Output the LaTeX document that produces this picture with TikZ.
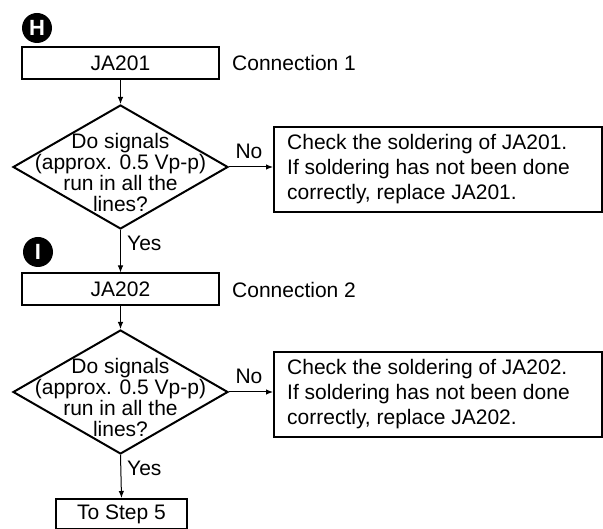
\documentclass[tikz,border=0pt]{standalone}
\usepackage{fontspec}
\setmainfont{Liberation Sans}
\usetikzlibrary{shapes.geometric,arrows.meta}
\begin{document}
\begin{tikzpicture}[x=1pt,y=-1pt,
  every node/.style={font=\fontsize{21}{21}\selectfont},
  stepbox/.style={draw, line width=2pt, minimum width=197pt, minimum height=32pt, inner sep=0pt},
  dia/.style={draw, diamond, line width=2pt, minimum width=215pt, minimum height=124pt, inner sep=0pt},
  chkbox/.style={draw, line width=2pt, minimum width=328pt, minimum height=85pt, inner sep=0pt},
  arr/.style={-{Latex[length=7pt,width=5.5pt]}, line width=1pt},
  badge/.style={circle, fill=black, minimum size=30pt, inner sep=0pt, text=white, font=\fontsize{22}{22}\selectfont\bfseries},
  lbl/.style={inner sep=0pt}
]
\useasboundingbox (0,0) rectangle (603,529);
% H section
\node[badge] (bH) at (37,28) {H};
\node[stepbox] (ja1) at (120.5,63) {JA201};
\node[lbl, anchor=west] (c1) at (232,63) {Connection 1};
\node[dia] (d1) at (120.5,167) {};
\node[lbl, align=center] (t1) at (120.5,172) {Do signals\\(approx. 0.5 Vp-p)\\run in all the\\lines?};
\node[chkbox] (k1) at (438,169.5) {};
\node[lbl, anchor=west, align=left, font=\fontsize{21}{25}\selectfont] (kt1) at (287,169.5) {Check the soldering of JA201.\\If soldering has not been done\\correctly, replace JA201.};
\node[lbl] (no1) at (249,151) {No};
\node[lbl, anchor=west] (yes1) at (127,243) {Yes};
% I section
\node[badge] (bI) at (38,252) {I};
\node[stepbox] (ja2) at (120.5,289.5) {JA202};
\node[lbl, anchor=west] (c2) at (232,289.5) {Connection 2};
\node[dia] (d2) at (120.5,392) {};
\node[lbl, align=center] (t2) at (120.5,397) {Do signals\\(approx. 0.5 Vp-p)\\run in all the\\lines?};
\node[chkbox] (k2) at (438,394.5) {};
\node[lbl, anchor=west, align=left, font=\fontsize{21}{25}\selectfont] (kt2) at (287,394.5) {Check the soldering of JA202.\\If soldering has not been done\\correctly, replace JA202.};
\node[lbl] (no2) at (249,376) {No};
\node[lbl, anchor=west] (yes2) at (127,468) {Yes};
\node[draw, line width=2pt, minimum width=131pt, minimum height=30pt, inner sep=0pt] (end) at (121.5,514) {To Step 5};
% connectors
\draw[arr] (ja1.south) -- (d1.north);
\draw[arr] (d1.east) -- (d1.east -| k1.west);
\draw[arr] (d1.south) -- (ja2.north);
\draw[arr] (ja2.south) -- (d2.north);
\draw[arr] (d2.east) -- (d2.east -| k2.west);
\draw[arr] (d2.south) -- (end.north);
\end{tikzpicture}
\end{document}
